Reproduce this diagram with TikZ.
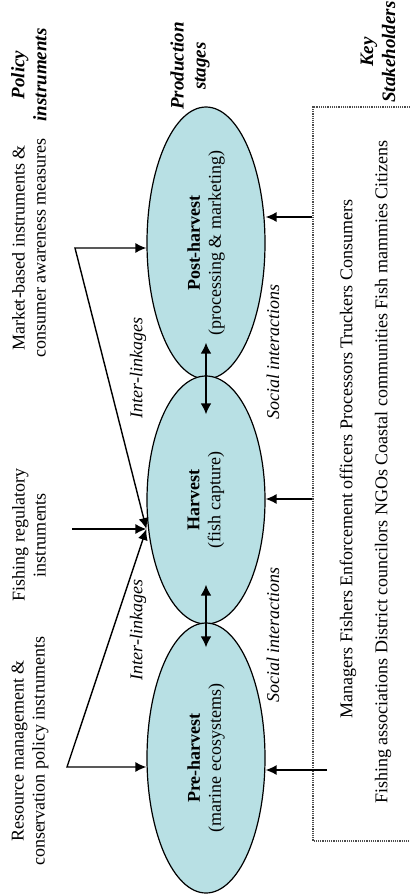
\documentclass[tikz,border=0pt]{standalone}
\usepackage{fontspec}
\setmainfont{Liberation Serif}
\usetikzlibrary{shapes.geometric, arrows.meta, calc, positioning}

\begin{document}
\begin{tikzpicture}[x=0.5pt, y=-0.5pt,
        font=\fontsize{9}{10.5}\selectfont,
        vtext/.style={rotate=90, align=center, inner sep=0pt},
        note/.style={vtext, font=\fontsize{9}{10.5}\selectfont\itshape},
        head/.style={vtext, font=\fontsize{9.5}{11}\selectfont\bfseries\itshape},
        stage/.style={ellipse, draw, line width=0.6pt, fill=stageBlue, rotate=90,
            minimum height=59pt, inner sep=0pt, align=center},
        arr/.style={-{Latex[length=5.5pt,width=5pt]}, line width=0.7pt},
        fork/.style={{Latex[length=5.5pt,width=5pt]}-{Latex[length=5.5pt,width=5pt]}, line width=0.7pt},
        dbl/.style={{Latex[length=5.5pt,width=5.5pt]}-{Latex[length=5.5pt,width=5.5pt]}, line width=1.2pt},
        skbox/.style={line width=0.6pt, black!70, dash pattern=on 0.6pt off 0.5pt}]
        % colours
        \definecolor{stageBlue}{RGB}{184,224,228}

        \useasboundingbox (0,0) rectangle (410,895);

        % column headings
        \node[head] (hpol) at (29,75) {Policy\\instruments};
        \node[head] (hprod) at (190,66) {Production\\stages};
        \node[head] (hkey) at (378,52) {Key\\Stakeholders};

        % production stages
        \node[stage, minimum width=136pt] (post) at (206,243)
            {\textbf{Post-harvest}\\(processing \& marketing)};
        \node[stage, minimum width=124pt] (harvest) at (206,500)
            {\textbf{Harvest}\\(fish capture)};
        \node[stage, minimum width=135pt] (pre) at (206,758)
            {\textbf{Pre-harvest}\\(marine ecosystems)};

        % policy instruments
        \node[vtext] (mkt) at (29,248) {Market-based instruments \&\\consumer awareness measures};
        \node[vtext] (fish) at (29,535) {Fishing regulatory\\instruments};
        \node[vtext] (res) at (30,751) {Resource management \&\\conservation policy instruments};

        \coordinate (mktv) at (75,248);
        \coordinate (fishv) at (72,529);
        \coordinate (resv) at (67,767);
        \coordinate (postin) at (mktv -| post.north);
        \coordinate (harvin) at (fishv -| harvest.north);
        \coordinate (prein) at (resv -| pre.north);

        \draw[fork] (postin) -- (mktv) -- (harvin);
        \draw[arr] (fishv) -- (harvin);
        \draw[fork] (prein) -- (resv) -- (harvin);

        % links between the stages
        \coordinate (j1a) at ($(post.west)+(0,-37)$);
        \coordinate (j1b) at ($(harvest.east)+(0,39)$);
        \coordinate (j2a) at ($(harvest.west)+(0,-40)$);
        \coordinate (j2b) at ($(pre.east)+(0,25)$);
        \draw[dbl] (j1a) -- (j1b);
        \draw[dbl] (j2a) -- (j2b);

        \node[note] (il1) at (138,368) {Inter-linkages};
        \node[note] (il2) at (138,630) {Inter-linkages};
        \node[note] (si1) at (273,352) {Social interactions};
        \node[note] (si2) at (273,635) {Social interactions};

        % key stakeholders
        \draw[skbox] (410,107) -| (313,841) -- (410,841);
        \node[vtext] (sk1) at (348,459)
            {Managers Fishers Enforcement officers Processors Truckers Consumers};
        \node[vtext] (sk2) at (383,472)
            {Fishing associations District councilors NGOs Coastal communities Fish mammies Citizens};

        \coordinate (skpost) at (312,217);
        \coordinate (skharv) at (312,499);
        \coordinate (skpre) at (327,770);
        \draw[arr] (skpost) -- (skpost -| post.south);
        \draw[arr] (skharv) -- (skharv -| harvest.south);
        \draw[arr] (skpre) -- (skpre -| pre.south);
\end{tikzpicture}
\end{document}
